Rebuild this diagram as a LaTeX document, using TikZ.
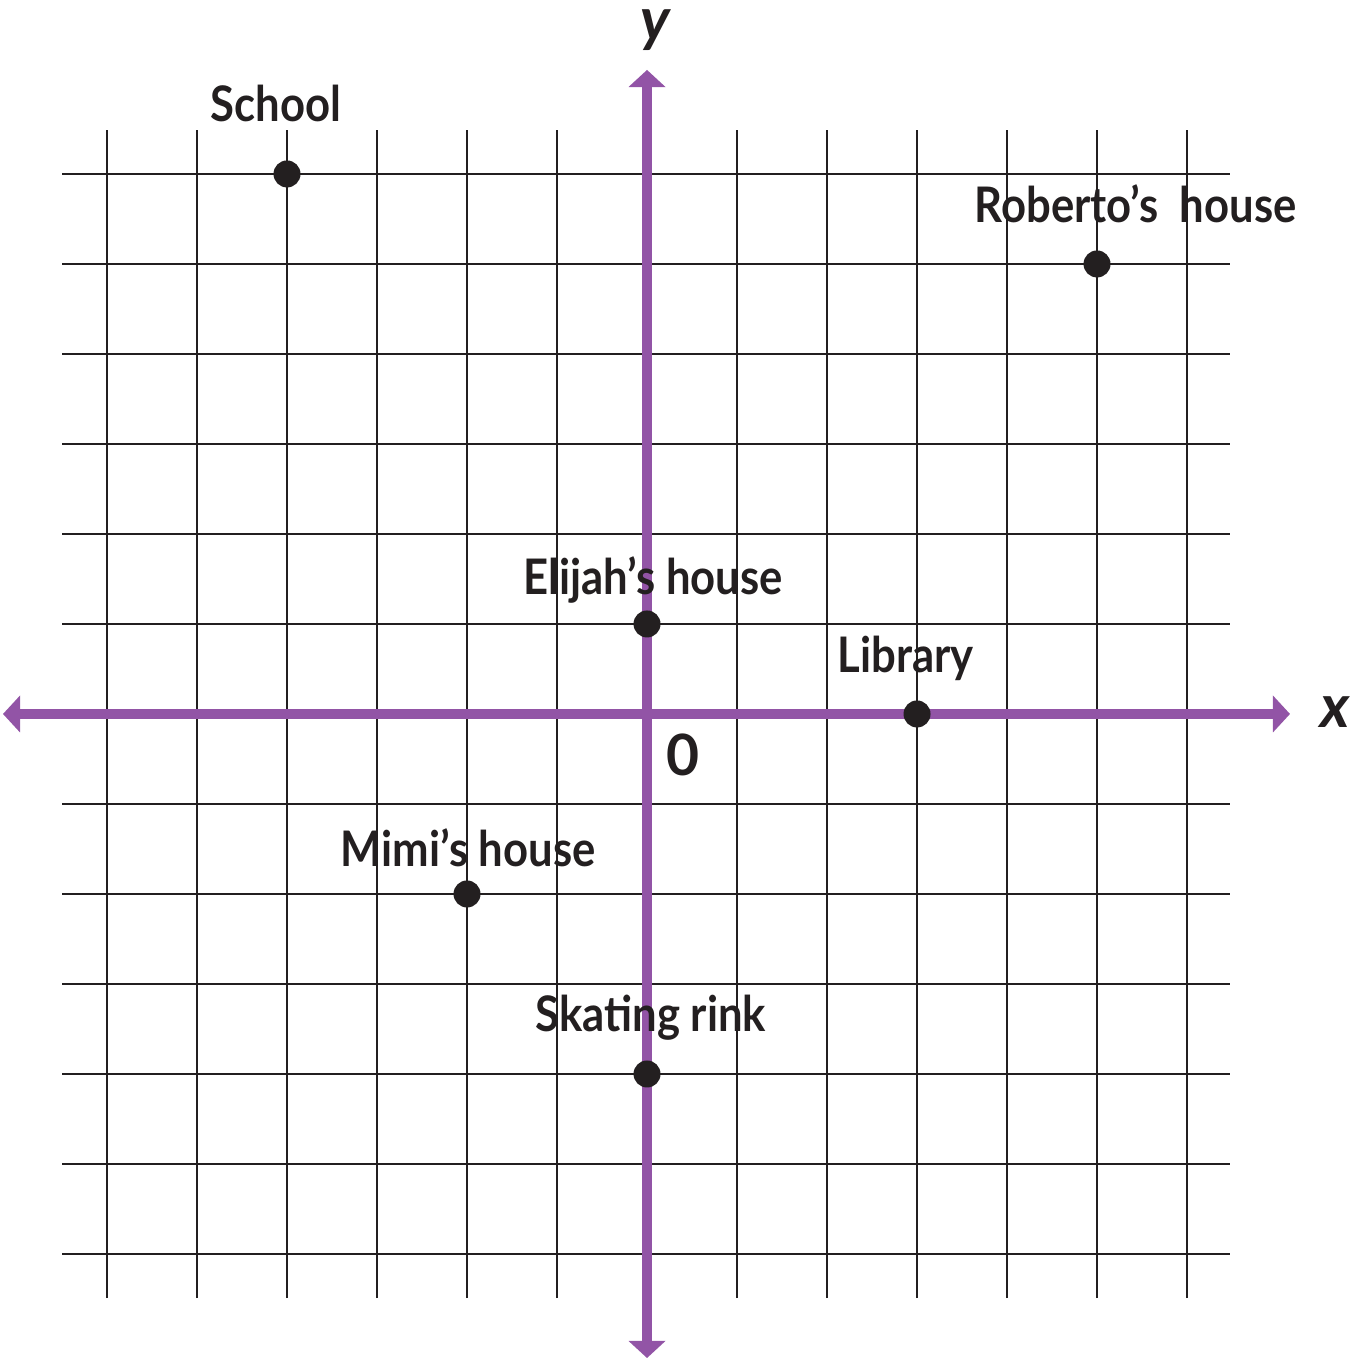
\documentclass[tikz,border=0pt]{standalone}
\usepackage{fontspec}
\usepackage{graphicx}
\setmainfont{Lato}
\usetikzlibrary{arrows.meta}
\definecolor{axpurple}{RGB}{146,84,166}
\definecolor{inkblack}{RGB}{35,31,32}
\newcommand\narrowtxt[1]{\scalebox{0.89}[1]{#1}}
\tikzset{
  gridline/.style={draw=inkblack, line width=0.8pt},
  axisline/.style={draw=axpurple, line width=0.111cm, {Triangle[length=0.19cm,width=0.4cm]}-{Triangle[length=0.19cm,width=0.4cm]}},
  place/.style={circle, fill=inkblack, inner sep=0pt, minimum size=0.3cm},
  lbl/.style={inner sep=0pt, anchor=base west, text=inkblack, font=\bfseries\fontsize{15.5}{18}\selectfont},
  axlbl/.style={inner sep=0pt, text=inkblack, font=\bfseries\itshape\fontsize{19}{22}\selectfont}
}
\begin{document}
\begin{tikzpicture}
\useasboundingbox (-7.189,-7.189) rectangle (7.822,7.933);
% grid
\foreach \i in {-6,...,6} {
  \draw[gridline] (\i,-6.49) -- (\i,6.49);
  \draw[gridline] (-6.5,\i) -- (6.48,\i);
}
% axes
\coordinate (xl) at (-7.156,0);
\coordinate (xr) at (7.144,0);
\coordinate (yb) at (0,-7.156);
\coordinate (yt) at (0,7.156);
\draw[axisline] (xl) -- (xr);
\draw[axisline] (yb) -- (yt);
\node[axlbl] (ylab) at (0.09,7.6) {y};
\node[axlbl] (xlab) at (7.64,0.02) {x};
\node[inner sep=0pt, text=inkblack, font=\bfseries\fontsize{18}{22}\selectfont] (zero) at (0.40,-0.46) {0};
% places
\node[place] (school) at (-4,6) {};
\node[place] (roberto) at (5,5) {};
\node[place] (elijah) at (0,1) {};
\node[place] (library) at (3,0) {};
\node[place] (mimi) at (-2,-2) {};
\node[place] (rink) at (0,-4) {};
% labels
\node[lbl] (schoollab) at (-4.856,6.578) {\narrowtxt{School}};
\node[lbl] (robertolab) at (3.633,5.456) {\narrowtxt{Roberto’s\ \ house}};
\node[lbl] (elijahlab) at (-1.378,1.322) {\narrowtxt{Elijah’s house}};
\node[lbl] (librarylab) at (2.111,0.456) {\narrowtxt{Library}};
\node[lbl] (mimilab) at (-3.411,-1.70) {\narrowtxt{Mimi’s house}};
\node[lbl] (rinklab) at (-1.244,-3.533) {\narrowtxt{Skating rink}};
\end{tikzpicture}
\end{document}
